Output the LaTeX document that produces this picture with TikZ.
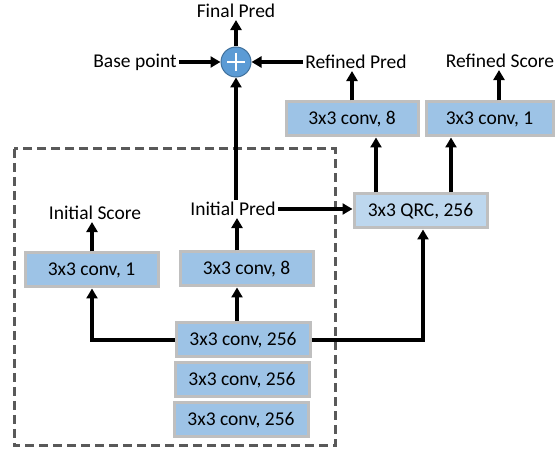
\documentclass[tikz,border=0pt]{standalone}
\usepackage{fontspec}
\setmainfont{Carlito}
\usetikzlibrary{arrows.meta,calc}
\definecolor{boxfill}{HTML}{9DC3E6}
\definecolor{qrcfill}{HTML}{BDD7EE}
\definecolor{boxline}{HTML}{BFBFBF}
\definecolor{plusfill}{HTML}{5B9BD5}
\definecolor{plusline}{HTML}{41719C}
\definecolor{dashgray}{HTML}{595959}
\begin{document}
\begin{tikzpicture}[x=1pt,y=-1pt,
  every node/.style={font=\fontsize{19.5}{23}\selectfont},
  convbox/.style={draw=boxline,line width=3pt,fill=boxfill,minimum width=133pt,minimum height=34pt,inner sep=0pt},
  qrcbox/.style={convbox,fill=qrcfill},
  lbl/.style={inner sep=2pt},
  arr/.style={line width=3.3pt,-{Triangle[length=10pt,width=11pt]}},
]
\useasboundingbox (0,0) rectangle (555,454);
% dashed frame
\draw[dashgray,line width=3pt,dash pattern=on 9pt off 5pt] (14,149) rectangle (335,446);
% boxes
\node[convbox] (s1) at (91.5,270) {3x3 conv, 1};
\node[convbox] (p1) at (246.5,269) {3x3 conv, 8};
\node[convbox,minimum width=134pt] (c1) at (243,340) {3x3 conv, 256};
\node[convbox,minimum width=134pt] (c2) at (242,380) {3x3 conv, 256};
\node[convbox,minimum width=134pt] (c3) at (241,420) {3x3 conv, 256};
\node[convbox,minimum width=132pt] (r8) at (352,119) {3x3 conv, 8};
\node[convbox,minimum width=127pt] (rs) at (489.5,119) {3x3 conv, 1};
\node[qrcbox] (qrc) at (420.5,211) {3x3 QRC, 256};
% labels
\node[lbl] (is) at (95,213) {Initial Score};
\node[lbl] (ip) at (233,209) {Initial Pred};
\node[lbl] (rp) at (356,62) {Refined Pred};
\node[lbl] (rsc) at (500,61) {Refined Score};
\node[lbl] (bp) at (135,62) {Base point};
\node[lbl] (fp) at (236,11) {Final Pred};
% plus
\node[circle,draw=plusline,line width=1pt,fill=plusfill,minimum size=30pt,inner sep=0pt] (plus) at (236,62) {};
\draw[white,line width=2.5pt] ($(plus.center)+(-9,0)$) -- ($(plus.center)+(9,0)$)
  ($(plus.center)+(0,-9)$) -- ($(plus.center)+(0,9)$);
% coordinates
\coordinate (colx) at (237,0);
\coordinate (elbowR) at (423,340);
\coordinate (elbowL) at (92,340);
\coordinate (q1) at (376,0);
\coordinate (q2) at (451,0);
\coordinate (rsx) at (499,0);
% connectors
\draw[arr] (c1.north -| colx) -- (p1.south -| colx);
\draw[arr] (p1.north -| colx) -- (ip.south -| colx);
\draw[arr] (ip.north -| plus) -- (plus.south);
\draw[arr] (c1.west) -- (elbowL) -- (s1.south -| elbowL);
\draw[arr] (s1.north -| elbowL) -- (is.south -| elbowL);
\draw[arr] (c1.east) -- (elbowR) -- (qrc.south -| elbowR);
\draw[arr] (ip.east) -- (ip.east -| qrc.west);
\draw[arr] (qrc.north -| q1) -- (r8.south -| q1);
\draw[arr] (qrc.north -| q2) -- (rs.south -| q2);
\draw[arr] (r8.north) -- (r8.north |- rp.south);
\draw[arr] (rs.north -| rsx) -- (rsc.south -| rsx);
\draw[arr] (rp.west) -- (plus.east);
\draw[arr] (bp.east) -- (plus.west);
\draw[arr] (plus.north) -- (fp.south);
\end{tikzpicture}
\end{document}
